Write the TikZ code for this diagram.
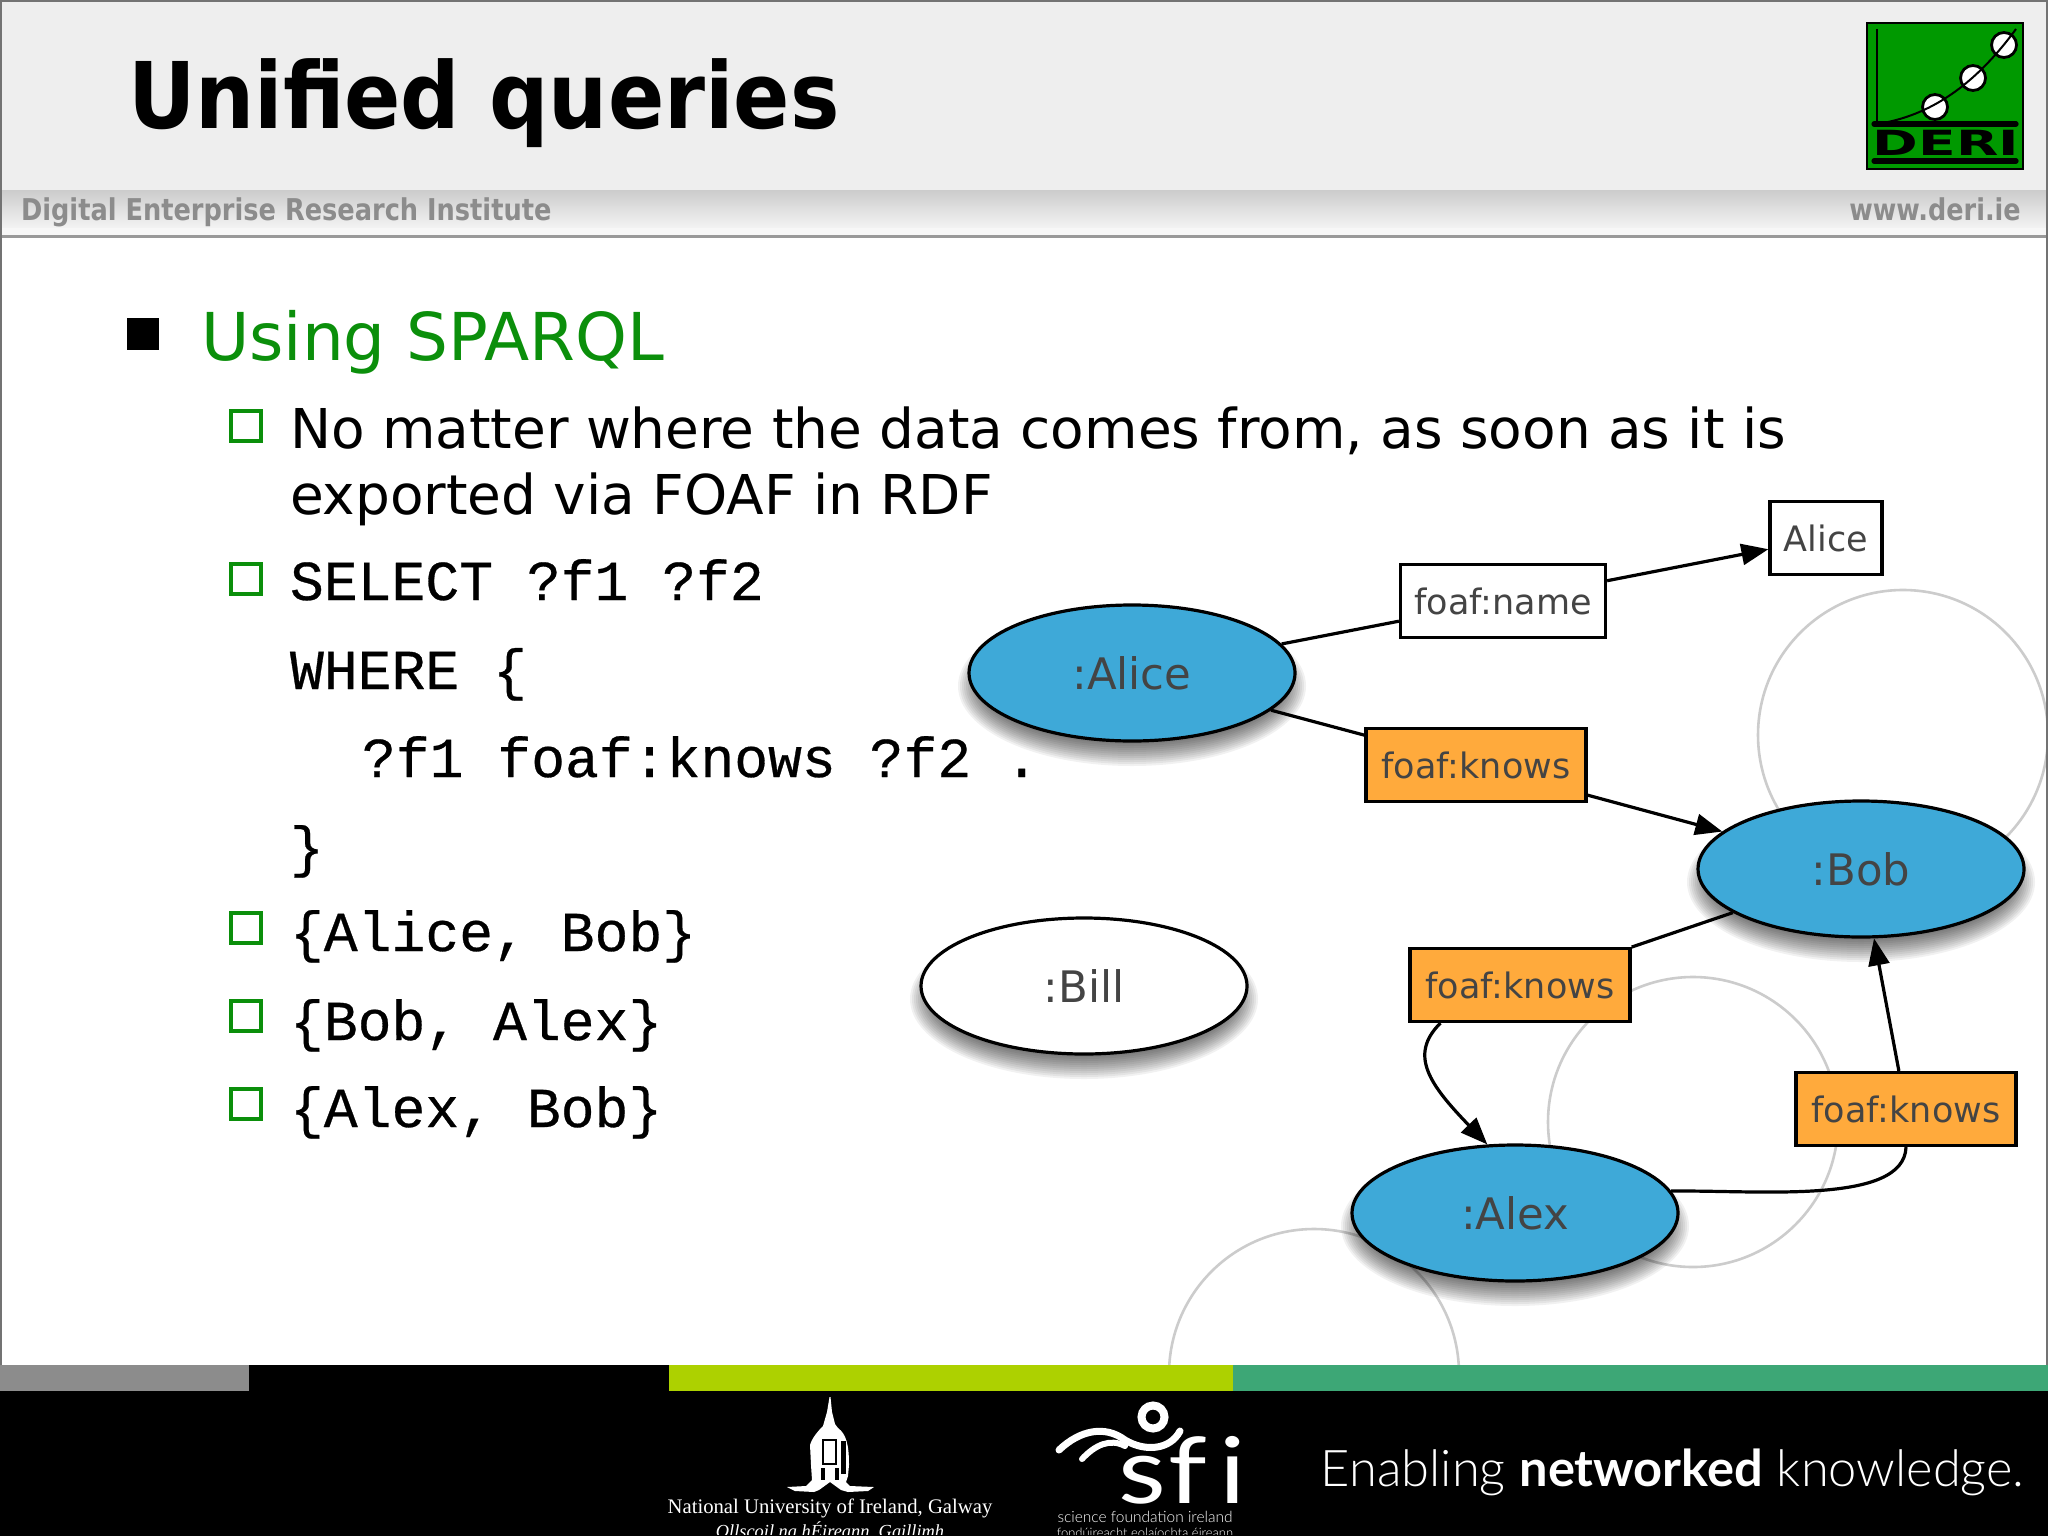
\documentclass[tikz,border=0pt]{standalone}
\usepackage{fontspec}
\setmainfont{DejaVu Sans}
\newfontfamily\monofam[FakeBold=0.5]{Liberation Mono}
\newfontfamily\serifam{Liberation Serif}
\newfontfamily\latofam{Lato}
\newfontfamily\latolight{Lato Light}
\usetikzlibrary{shapes.geometric,arrows.meta,calc}
\definecolor{slidegreen}{HTML}{0B8F0B}
\definecolor{logogreen}{HTML}{009900}
\definecolor{nodeblue}{HTML}{3EA9D8}
\definecolor{nodeorange}{HTML}{FFAA3C}
\definecolor{bandgrey}{HTML}{8C8C8C}
\definecolor{labelgrey}{HTML}{444444}
\definecolor{barlime}{HTML}{ADD100}
\definecolor{bargreen}{HTML}{3DA776}
\tikzset{
  x=0.5pt,y=-0.5pt,
  txt/.style={anchor=base west,inner sep=0pt,outer sep=0pt},
  body/.style={txt,font=\fontsize{27.45}{30}\selectfont},
  code/.style={txt,font=\monofam\fontsize{28.2}{32}\selectfont},
  res/.style={ellipse,draw=black,line width=1.6pt,minimum width=163pt,minimum height=68pt,inner sep=0pt,
     text=labelgrey,font=\fontsize{21.7}{24}\selectfont},
  lab/.style={rectangle,draw=black,line width=1.6pt,minimum height=36.5pt,inner sep=0pt,
     text=labelgrey,font=\fontsize{17.5}{20}\selectfont},
  conn/.style={draw=black,line width=1.6pt},
  arr/.style={conn,-{Triangle[length=13.5pt,width=10.5pt]}},
  ghost/.style={draw=black!20,line width=1.3pt},
  subbox/.style={draw=slidegreen,line width=1.6pt},
  foot/.style={anchor=base,inner sep=0pt,text=white},
}
\newcommand{\softshadow}[2]{%
  \foreach \i in {0,...,11}{
    \fill[black,opacity=0.055] (#1,#2+13) ellipse [x radius=163+11-2*\i,y radius=68+12-2*\i];
  }}
\begin{document}
\begin{tikzpicture}
\useasboundingbox (0,0) rectangle (2048,1536);
\fill[white] (0,0) rectangle (2048,1536);
% header
\fill[black!6.5] (0,0) rectangle (2048,190);
\shade[top color=black!20,bottom color=black!3] (0,190) rectangle (2048,232);
\fill[black!3] (0,228) rectangle (2048,235);
\fill[black!40] (0,235) rectangle (2048,238);
\node[txt,xscale=0.903,font=\bfseries\fontsize{46}{50}\selectfont] (title) at (128,128) {Unified queries};
\node[txt,xscale=0.855,text=bandgrey,font=\bfseries\fontsize{15}{18}\selectfont] (dept) at (21,220) {Digital Enterprise Research Institute};
\node[anchor=base east,xscale=0.85,inner sep=0pt,text=bandgrey,font=\bfseries\fontsize{15}{18}\selectfont] (web) at (2021,220) {www.deri.ie};
% logo
\fill[logogreen,draw=black,line width=0.8pt] (1867,23) rectangle (2023,169);
\draw[black,line width=1pt] (1877,29) -- (1877,124);
\fill[white,draw=black,line width=1.4pt] (1935,107) circle (12.5);
\fill[white,draw=black,line width=1.4pt] (1973,78) circle (12.5);
\fill[white,draw=black,line width=1.4pt] (2004,45) circle (12.5);
\draw[black,line width=1pt] (1877,124) .. controls (1930,116) and (1975,85) .. (2016,29);
\draw[black,line width=2.6pt,line cap=round] (1874,124) -- (2016,124);
\draw[black,line width=2.6pt,line cap=round] (1874,161) -- (2016,161);
\node[inner sep=0pt,font=\bfseries\fontsize{17}{18}\selectfont,xscale=1.62,yscale=1.02] (deri) at (1946,143) {DERI};
% background circles
\draw[ghost] (1903,735) circle (145);
\draw[ghost] (1693,1122) circle (145);
\begin{scope}
\clip (1100,1200) rectangle (1500,1365);
\draw[ghost] (1314,1374) circle (145);
\end{scope}
% bullets
\fill[black] (127,318) rectangle (159,350);
\node[txt,text=slidegreen,font=\fontsize{33}{38}\selectfont] (h1) at (201,360) {Using SPARQL};
\foreach \yy in {410,563,912,1000,1088}{
  \draw[subbox] (231,\yy+1) rectangle (261,\yy+31);
}
\node[body] (t1) at (290,448) {No matter where the data comes from, as soon as it is};
\node[body] (t2) at (290,514) {exported via FOAF in RDF};
\node[code] (c1) at (290,600) {SELECT ?f1 ?f2};
\node[code] (c2) at (290,689) {WHERE \{};
\node[code] (c3) at (362,777) {?f1 foaf:knows ?f2 .};
\node[code] (c4) at (290,866) {\}};
\node[code] (c5) at (290,951) {\{Alice, Bob\}};
\node[code] (c6) at (290,1040) {\{Bob, Alex\}};
\node[code] (c7) at (290,1127) {\{Alex, Bob\}};
% shadows
\softshadow{1132}{673}
\softshadow{1861}{869}
\softshadow{1515}{1213}
\softshadow{1084}{986}
% graph
\node[res,fill=nodeblue] (alice) at (1132,673) {:Alice};
\node[res,fill=nodeblue] (bob) at (1861,869) {:Bob};
\node[res,fill=nodeblue] (alex) at (1515,1213) {:Alex};
\node[res,fill=white] (bill) at (1084,986) {:Bill};
\node[lab,fill=white,minimum width=102.5pt] (name) at (1503,601) {foaf:name};
\node[lab,fill=white,minimum width=56pt] (lit) at (1826,538) {Alice};
\node[lab,fill=nodeorange,minimum width=110pt] (k1) at (1476,765) {foaf:knows};
\node[lab,fill=nodeorange,minimum width=110pt] (k2) at (1520,985) {foaf:knows};
\node[lab,fill=nodeorange,minimum width=110pt] (k3) at (1906,1109) {foaf:knows};
\draw[conn] (alice) -- (name);
\draw[arr] (name) -- (lit);
\draw[conn] (alice) -- (k1);
\draw[arr] (k1) -- (bob);
\draw[conn] (bob) -- (k2);
\draw[arr] ($(k2.south west)+(32,0)$) .. controls (1408,1055) and (1430,1085) .. (alex.112);
\draw[conn] (alex.8) .. controls (1760,1190) and (1904,1205) .. (k3.south);
\draw[arr] (k3) -- (bob);
% footer
\fill[black] (0,1365) rectangle (2048,1536);
\fill[black!45] (0,1365) rectangle (249,1391);
\fill[barlime] (669,1365) rectangle (1233,1391);
\fill[bargreen] (1233,1365) rectangle (2048,1391);
% university crest
\fill[white] (829.5,1397) -- (830.5,1397) -- (832,1412) -- (835,1424) -- (838,1428) .. controls (846,1434) and (849,1444) .. (849,1465)
  -- (848,1476) -- (846,1482) -- (850,1486) -- (874,1487) -- (868,1491) -- (848,1492) -- (841,1490) -- (830,1482) -- (819,1490) -- (814,1492) -- (795,1491) -- (787,1487) -- (806,1486) -- (812,1480)
  -- (811,1465) -- (810,1445) .. controls (812,1438) and (818,1431) .. (823,1426) -- (827,1412) -- cycle;
\fill[black] (841,1441) rectangle (846,1474);
\draw[black,line width=0.6pt] (823,1440) rectangle (836,1464);
\fill[black] (821,1468) rectangle (825,1480);
\fill[black] (835,1468) rectangle (839,1480);
\begin{scope}
\clip (600,1400) rectangle (1300,1534);
\node[foot,font=\serifam\fontsize{10.35}{14}\selectfont] (nui) at (830,1513) {National University of Ireland, Galway};
\node[foot,font=\serifam\itshape\fontsize{9.2}{14}\selectfont] (nuiga) at (830,1537) {Ollscoil na hÉireann, Gaillimh};
\node[foot,font=\latolight\fontsize{7.75}{10}\selectfont] (sfi1) at (1145,1522) {science foundation ireland};
\node[foot,font=\latolight\fontsize{6.5}{10}\selectfont] (sfi2) at (1145,1537) {fondúireacht eolaíochta éireann};
\end{scope}
% sfi mark
\draw[white,line width=4pt] (1153,1417) ellipse [x radius=11.5,y radius=11.5];
\draw[white,line width=3.5pt,line cap=round] (1059,1450) .. controls (1080,1430) and (1105,1425) .. (1125,1440) .. controls (1145,1452) and (1170,1450) .. (1180,1431);
\draw[white,line width=3pt,line cap=round] (1082,1459) .. controls (1095,1445) and (1110,1438) .. (1125,1446);
\node[foot,xscale=1.2,font=\latofam\fontsize{46}{48}\selectfont] (sfi) at (1182,1503) {s\kern1pt f\kern5pt i};
% slogan
\node[anchor=base east,inner sep=0pt,text=white,font=\latolight\fontsize{25.3}{30}\selectfont] (slogan) at (2025,1486) {Enabling {\latofam\bfseries networked} knowledge.};
% frame
\draw[black!55,line width=1.2pt] (1,1365) -- (1,1) -- (2047,1) -- (2047,1365);
\end{tikzpicture}
\end{document}
